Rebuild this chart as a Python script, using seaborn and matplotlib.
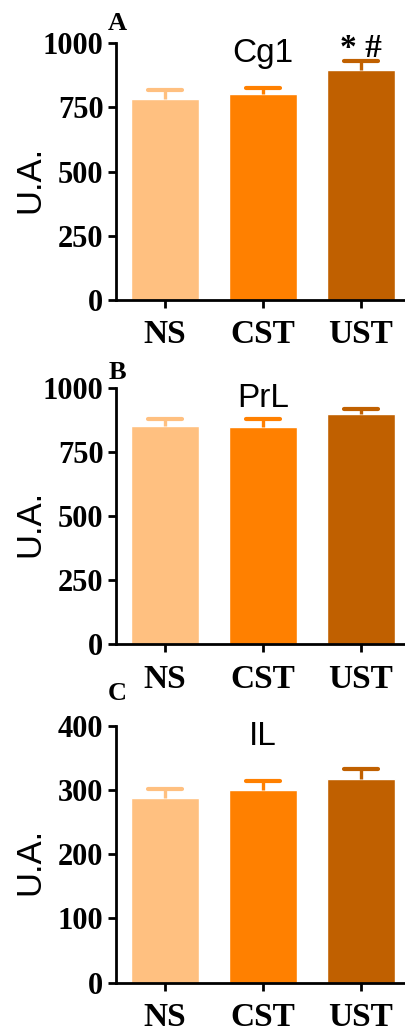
import numpy as np
import pandas as pd
import matplotlib
matplotlib.use('Agg')
import matplotlib.pyplot as plt
import matplotlib.transforms as mtransforms
import seaborn as sns

# data
groups = ['NS', 'CST', 'UST']
cg1_mean = [781, 800, 896]
cg1_sem = [36, 26, 35]
prl_mean = [852, 845, 898]
prl_sem = [27, 31, 20]
il_mean = [287, 300, 317]
il_sem = [15, 14, 15]

panel_titles = ['Cg1', 'PrL', 'IL']
panel_letters = ['A', 'B', 'C']
ymax = [1000, 1000, 400]
ytick_step = [250, 250, 100]
marks = ['* #', '', '']

colors = ['#FFC080', '#FF8000', '#C06000']

sns.set_style('ticks')
plt.rcParams['font.family'] = ['Liberation Serif', 'DejaVu Serif']
plt.rcParams['text.color'] = 'black'
plt.rcParams['axes.labelcolor'] = 'black'
plt.rcParams['xtick.color'] = 'black'
plt.rcParams['ytick.color'] = 'black'

fig = plt.figure(figsize=(4.05, 10.32), dpi=100)

# axes boxes (left, bottom, width, height) in figure fraction
boxes = [
    [0.2864, 0.7093, 0.7136, 0.2490],
    [0.2864, 0.3757, 0.7136, 0.2487],
    [0.2864, 0.0478, 0.7136, 0.2490],
]
letter_y = [1.05, 1.035, 1.10]

all_means = [cg1_mean, prl_mean, il_mean]
all_sems = [cg1_sem, prl_sem, il_sem]

for i in range(3):
    ax = fig.add_axes(boxes[i])
    df = pd.DataFrame({'group': groups, 'value': all_means[i]})

    sns.barplot(data=df, x='group', y='value', hue='group',
                palette=colors, width=0.7, errorbar=None,
                legend=False, ax=ax, saturation=1)

    # upper whisker only, like the original
    for j, g in enumerate(groups):
        top = all_means[i][j] + all_sems[i][j]
        ax.vlines(j, all_means[i][j], top, color=colors[j],
                  linewidth=2.4, zorder=3)
        ax.hlines(top, j - 0.175, j + 0.175, color=colors[j],
                  linewidth=3, capstyle='round', zorder=3)

    ax.set_xlim(-0.5, 2.45)
    ax.set_ylim(0, ymax[i])
    ax.set_yticks(np.arange(0, ymax[i] + 1, ytick_step[i]))
    ax.set_xlabel('')
    ax.set_ylabel('U.A.', family=['Liberation Sans'], fontsize=25)
    ax.yaxis.set_label_coords(-0.24, 0.47)

    sns.despine(ax=ax)
    for side in ['left', 'bottom']:
        ax.spines[side].set_linewidth(2)
        ax.spines[side].set_color('black')

    ax.tick_params(axis='y', length=6, width=2, pad=3, labelsize=22)
    ax.tick_params(axis='x', length=6, width=2, pad=8, labelsize=24)
    for lab in ax.get_xticklabels() + ax.get_yticklabels():
        lab.set_fontweight('bold')

    trans = mtransforms.blended_transform_factory(ax.transData, ax.transAxes)
    ax.text(1, 0.925, panel_titles[i], transform=trans, ha='center',
            va='baseline', fontsize=24, family=['Liberation Sans'])

    ax.text(0.005, letter_y[i], panel_letters[i], transform=ax.transAxes,
            ha='center', va='baseline', fontsize=19, fontweight='bold')

    if marks[i]:
        ax.text(2, 0.945 * ymax[i], marks[i], ha='center', va='baseline',
                fontsize=24, fontweight='bold')

fig.savefig('out.png', dpi=100)
